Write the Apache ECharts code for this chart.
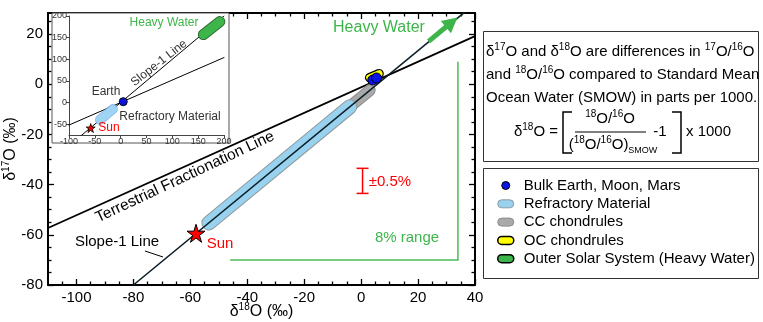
<!DOCTYPE html>
<html><head><meta charset="utf-8">
<script src="https://cdn.jsdelivr.net/npm/echarts@6/dist/echarts.min.js"></script>
<style>html,body{margin:0;padding:0;background:#fff}#c{width:763px;height:322px}</style>
</head><body><div id="c"></div>
<script>
const FONT = 'Liberation Sans, Arial, Helvetica, sans-serif';
// ---- tick values ----
const xMajorTicks = [-100, -80, -60, -40, -20, 0, 20, 40];
const yMajorTicks = [-80, -60, -40, -20, 0, 20];
const xMinorTicks = [-105, -95, -90, -85, -75, -70, -65, -55, -50, -45, -35, -30, -25, -15, -10, -5, 5, 10, 15, 25, 30, 35];
const yMinorTicks = [-75, -70, -65, -55, -50, -45, -35, -30, -25, -15, -10, -5, 5, 10, 15, 25];
const insetXTicks = [-100, -50, 0, 50, 100, 150, 200];
const insetYTicks = [-50, 0, 50, 100, 150, 200];
// ---- main plot data [δ18O, δ17O] ----
const tflLine = [[-110, -57.3], [40, 19.2]];
const slope1Line = [[-80, -80], [40, 32.1]];
const refractory = [[-53.5, -55.3], [-4, -9]];
const ccChondrules = [[-6, -10.8], [3, -2.4]];
const ocChondrules = [[3.0, 2.6], [6.3, 4.2]];
const bulkEarth = [[4.1, 1.7], [5.4, 2.5]];
const sun = [[-58, -59.4]];
const heavyWaterArrow = [[23.7, 17.1], [31.8, 24.7]];
const errorBar = [[0.5, -43.5], [0.5, -33.5]];
const rangeLines = [[-46, -70], [34, -70], [34, 9]];
// ---- inset data ----
const insetTfl = [[-100, -52], [200, 104]];
const insetSlope1 = [[-80, -80], [200, 200]];
const insetRefractory = [[-40, -40], [-15, -15]];
const insetHeavyWater = [[160, 157], [192, 187]];
const insetEarth = [[5, 2]];
const insetSun = [[-58, -59]];

const GREEN = '#3db54a', RED = '#ff0000', BLUE = '#0a14e6', LBLUE = '#98d2ee', GRAY = '#a9a9a9', YEL = '#ffff00';
const STAR = 'path://M50,0L61.2,34.5L97.6,34.5L68.2,55.9L79.4,90.5L50,69.1L20.6,90.5L31.8,55.9L2.4,34.5L38.8,34.5Z';
const CAPSULE = 'path://M4,0H12A4,4,0,0,1,12,8H4A4,4,0,0,1,4,0Z';

function seg(name, data, color, width, xi, yi, z, extra) {
  return Object.assign({
    type: 'line', name: name, data: data, xAxisIndex: xi, yAxisIndex: yi, symbol: 'none',
    silent: true, animation: false, z: z, emphasis: {disabled: true},
    lineStyle: {color: color, width: width, cap: 'round', join: 'round'}
  }, extra || {});
}
function mainAxis(dim, pos, ticks, len, showLine, withLabels) {
  return {
    gridIndex: 0, type: 'value', position: pos,
    min: dim === 'x' ? -110 : -80, max: dim === 'x' ? 40 : 28.4,
    axisLine: {show: showLine, onZero: false, lineStyle: {color: '#000', width: 2}},
    axisTick: {show: true, inside: true, length: len, customValues: ticks, lineStyle: {color: '#000', width: 1.3}},
    axisLabel: withLabels ? {customValues: ticks, fontSize: 15, color: '#000', margin: 5, fontFamily: FONT} : {show: false},
    splitLine: {show: false}
  };
}
const rich = {
  s: {fontSize: 10, verticalAlign: 'top', lineHeight: 20, fontFamily: FONT},
  b: {fontSize: 9, verticalAlign: 'bottom', lineHeight: 20, fontFamily: FONT}
};
const xa0 = mainAxis('x', 'bottom', xMajorTicks, 6, true, true);
xa0.name = 'δ{s|18}O (‰)'; xa0.nameLocation = 'middle'; xa0.nameGap = 17; xa0.nameMoveOverlap = false;
xa0.nameTextStyle = {fontSize: 16, color: '#000', fontFamily: FONT, lineHeight: 20, rich: rich};
const ya0 = mainAxis('y', 'left', yMajorTicks, 6, true, true);
ya0.name = 'δ{s|17}O (‰)'; ya0.nameLocation = 'middle'; ya0.nameGap = 27; ya0.nameMoveOverlap = false;
ya0.nameTextStyle = {fontSize: 16, color: '#000', fontFamily: FONT, lineHeight: 20, rich: rich};

const insetAxisCommon = {gridIndex: 1, type: 'value', z: 60, splitLine: {show: false},
  axisLine: {show: true, onZero: false, lineStyle: {color: '#444', width: 1}},
  axisTick: {show: true, length: 3, lineStyle: {color: '#444', width: 1}}};

function txt(x, y, text, size, color, extra, z) {
  return Object.assign({type: 'text', x: x, y: y, z: z || 45, silent: true,
    style: {text: text, fontSize: size, fontFamily: FONT, fill: color, align: 'center', verticalAlign: 'middle', rich: rich, lineHeight: 20}}, extra || {});
}

const chart = echarts.init(document.getElementById('c'), null, {renderer: 'canvas'});
chart.setOption({
  animation: false,
  textStyle: {fontFamily: FONT},
  grid: [
    {left: 48, right: 288, top: 13, bottom: 37, containLabel: false, outerBoundsMode: 'none'},
    {left: 69, right: 539, top: 16, bottom: 187, containLabel: false, outerBoundsMode: 'none'}
  ],
  xAxis: [
    xa0,
    mainAxis('x', 'bottom', xMinorTicks, 3.5, false, false),
    mainAxis('x', 'top', xMajorTicks, 6, true, false),
    mainAxis('x', 'top', xMinorTicks, 3.5, false, false),
    Object.assign({}, insetAxisCommon, {position: 'bottom', min: -100, max: 200,
      axisTick: Object.assign({}, insetAxisCommon.axisTick, {customValues: insetXTicks}),
      axisLabel: {customValues: insetXTicks, fontSize: 9, color: '#333', margin: 2, fontFamily: FONT}})
  ],
  yAxis: [
    ya0,
    mainAxis('y', 'left', yMinorTicks, 3.5, false, false),
    mainAxis('y', 'right', yMajorTicks, 6, true, false),
    mainAxis('y', 'right', yMinorTicks, 3.5, false, false),
    Object.assign({}, insetAxisCommon, {position: 'left', min: -75, max: 200,
      axisTick: Object.assign({}, insetAxisCommon.axisTick, {customValues: insetYTicks}),
      axisLabel: {customValues: insetYTicks, fontSize: 9, color: '#333', margin: 2, fontFamily: FONT}})
  ],
  legend: {
    orient: 'vertical', left: 497, top: 178, padding: 0, itemWidth: 16, itemHeight: 8, itemGap: 3.3,
    selectedMode: false, textStyle: {fontSize: 15, color: '#000', fontFamily: FONT, padding: [0, 0, 0, 5]},
    data: [
      {name: 'Bulk Earth, Moon, Mars', icon: 'circle', itemStyle: {color: BLUE, borderColor: '#000', borderWidth: 1}},
      {name: 'Refractory Material', icon: CAPSULE, itemStyle: {color: LBLUE, borderColor: '#8f9aa0', borderWidth: 1}},
      {name: 'CC chondrules', icon: CAPSULE, itemStyle: {color: GRAY, borderColor: '#8c8c8c', borderWidth: 1}},
      {name: 'OC chondrules', icon: CAPSULE, itemStyle: {color: YEL, borderColor: '#000', borderWidth: 1.5}},
      {name: 'Outer Solar System (Heavy Water)', icon: CAPSULE, itemStyle: {color: GREEN, borderColor: '#000', borderWidth: 1.5}}
    ]
  },
  series: [
    seg('tfl', tflLine, '#000', 1.8, 0, 0, 3),
    seg('ccOutline', ccChondrules, '#8c8c8c', 12, 0, 0, 4),
    seg('CC chondrules', ccChondrules, GRAY, 10, 0, 0, 4),
    seg('refOutline', refractory, '#8f9aa0', 15, 0, 0, 4),
    seg('Refractory Material', refractory, LBLUE, 13, 0, 0, 4),
    seg('slope1', slope1Line, '#0d1f28', 1.6, 0, 0, 5),
    seg('ocOutline', ocChondrules, '#000', 9.5, 0, 0, 6),
    seg('OC chondrules', ocChondrules, YEL, 7, 0, 0, 6),
    {type: 'scatter', name: 'Bulk Earth, Moon, Mars', data: bulkEarth, xAxisIndex: 0, yAxisIndex: 0, z: 7, silent: true,
      symbolSize: 10, itemStyle: {color: BLUE, borderColor: '#000', borderWidth: 1, opacity: 1}},
    {type: 'scatter', name: 'sun', data: sun, xAxisIndex: 0, yAxisIndex: 0, z: 8, silent: true,
      symbol: STAR, symbolSize: 18, itemStyle: {color: RED, borderColor: '#000', borderWidth: 1, opacity: 1}},
    seg('range', rangeLines, '#4cbb55', 1.5, 0, 0, 3, {lineStyle: {color: '#4cbb55', width: 1.5, cap: 'butt', join: 'miter'}}),
    seg('errorBar', errorBar, RED, 1.5, 0, 0, 3, {lineStyle: {color: RED, width: 1.5, cap: 'butt'}}),
    {type: 'scatter', name: 'errorCaps', data: errorBar, xAxisIndex: 0, yAxisIndex: 0, z: 3, silent: true,
      symbol: 'rect', symbolSize: [12, 1.5], itemStyle: {color: RED, opacity: 1}},
    seg('heavyArrowShaft', heavyWaterArrow, GREEN, 5, 0, 0, 6, {lineStyle: {color: GREEN, width: 5, cap: 'butt'}}),
    {type: 'scatter', name: 'heavyArrowHead', data: [heavyWaterArrow[1]], xAxisIndex: 0, yAxisIndex: 0, z: 6, silent: true,
      symbol: 'triangle', symbolSize: [16, 15], symbolRotate: -50.5, itemStyle: {color: GREEN, opacity: 1}},
    // inset
    seg('itfl', insetTfl, '#000', 1, 4, 4, 61),
    seg('islope', insetSlope1, '#000', 1, 4, 4, 61),
    seg('Refractory Material', insetRefractory, 'rgba(120,170,230,0.8)', 10, 4, 4, 62),
    seg('Refractory Material', insetRefractory, 'rgba(160,215,245,0.9)', 8, 4, 4, 62),
    seg('hwOutline', insetHeavyWater, '#2d6b34', 11, 4, 4, 62),
    seg('Outer Solar System (Heavy Water)', insetHeavyWater, GREEN, 9, 4, 4, 62),
    {type: 'scatter', name: 'Bulk Earth, Moon, Mars', data: insetEarth, xAxisIndex: 4, yAxisIndex: 4, z: 63, silent: true,
      symbolSize: 8, itemStyle: {color: BLUE, borderColor: '#000', borderWidth: 1, opacity: 1}},
    {type: 'scatter', name: 'isun', data: insetSun, xAxisIndex: 4, yAxisIndex: 4, z: 63, silent: true,
      symbol: STAR, symbolSize: 9, itemStyle: {color: RED, borderColor: '#000', borderWidth: 0.8, opacity: 1}}
  ],
  graphic: [
    {type: 'rect', z: 50, silent: true, shape: {x: 52, y: 13, width: 177, height: 130}, style: {fill: '#fff', stroke: '#555', lineWidth: 1}},
    {type: 'rect', z: 1, silent: true, shape: {x: 483.5, y: 31.5, width: 275, height: 130}, style: {fill: '#fff', stroke: '#333', lineWidth: 1}},
    {type: 'rect', z: 1, silent: true, shape: {x: 483.5, y: 168.5, width: 275, height: 110}, style: {fill: '#fff', stroke: '#333', lineWidth: 1}},
    txt(185, 177, 'Terrestrial Fractionation Line', 15.5, '#000', {rotation: 0.44}),
    txt(117, 242, 'Slope-1 Line', 15, '#000'),
    {type: 'line', z: 45, silent: true, shape: {x1: 145, y1: 251, x2: 163, y2: 257}, style: {stroke: '#000', lineWidth: 1}},
    txt(220, 244, 'Sun', 15, RED),
    txt(379, 28, 'Heavy Water', 16, GREEN),
    txt(390, 182, '±0.5%', 15, RED),
    txt(407, 238, '8% range', 15, GREEN),
    txt(164, 23, 'Heavy Water', 12, GREEN, null, 65),
    txt(159, 63, 'Slope-1 Line', 12, '#333', {rotation: 0.667}, 65),
    txt(106, 92, 'Earth', 12, '#333', null, 65),
    txt(170, 117, 'Refractory Material', 12, '#333', null, 65),
    txt(109, 128, 'Sun', 12, RED, null, 65),
    {type: 'text', z: 2, x: 486, y: 52, silent: true, style: {text: 'δ{s|17}O and δ{s|18}O are differences in {s|17}O/{s|16}O', fontSize: 15, fontFamily: FONT, fill: '#000', align: 'left', verticalAlign: 'middle', lineHeight: 20, rich: rich}},
    {type: 'text', z: 2, x: 486, y: 75, silent: true, style: {text: 'and {s|18}O/{s|16}O compared to Standard Mean', fontSize: 15, fontFamily: FONT, fill: '#000', align: 'left', verticalAlign: 'middle', lineHeight: 20, rich: rich}},
    {type: 'text', z: 2, x: 486, y: 98, silent: true, style: {text: 'Ocean Water (SMOW) in parts per 1000.', fontSize: 15, fontFamily: FONT, fill: '#000', align: 'left', verticalAlign: 'middle', lineHeight: 20, rich: rich}},
    {type: 'text', z: 2, x: 558, y: 132, silent: true, style: {text: 'δ{s|18}O =', fontSize: 15, fontFamily: FONT, fill: '#000', align: 'right', verticalAlign: 'middle', lineHeight: 20, rich: rich}},
    {type: 'polyline', z: 2, silent: true, shape: {points: [[572, 112], [563, 112], [563, 153], [572, 153]]}, style: {stroke: '#000', lineWidth: 1.5, fill: null}},
    {type: 'text', z: 2, x: 610, y: 119, silent: true, style: {text: '{s|18}O/{s|16}O', fontSize: 15, fontFamily: FONT, fill: '#000', align: 'center', verticalAlign: 'middle', lineHeight: 20, rich: rich}},
    {type: 'line', z: 2, silent: true, shape: {x1: 575, y1: 132, x2: 646, y2: 132}, style: {stroke: '#000', lineWidth: 1.2}},
    {type: 'text', z: 2, x: 613, y: 145, silent: true, style: {text: '({s|18}O/{s|16}O){b|SMOW}', fontSize: 15, fontFamily: FONT, fill: '#000', align: 'center', verticalAlign: 'middle', lineHeight: 20, rich: rich}},
    {type: 'text', z: 2, x: 660, y: 132, silent: true, style: {text: '-1', fontSize: 15, fontFamily: FONT, fill: '#000', align: 'center', verticalAlign: 'middle'}},
    {type: 'polyline', z: 2, silent: true, shape: {points: [[672, 112], [681, 112], [681, 153], [672, 153]]}, style: {stroke: '#000', lineWidth: 1.5, fill: null}},
    {type: 'text', z: 2, x: 686, y: 132, silent: true, style: {text: 'x 1000', fontSize: 15, fontFamily: FONT, fill: '#000', align: 'left', verticalAlign: 'middle'}}
  ]
});
</script>
</body></html>
